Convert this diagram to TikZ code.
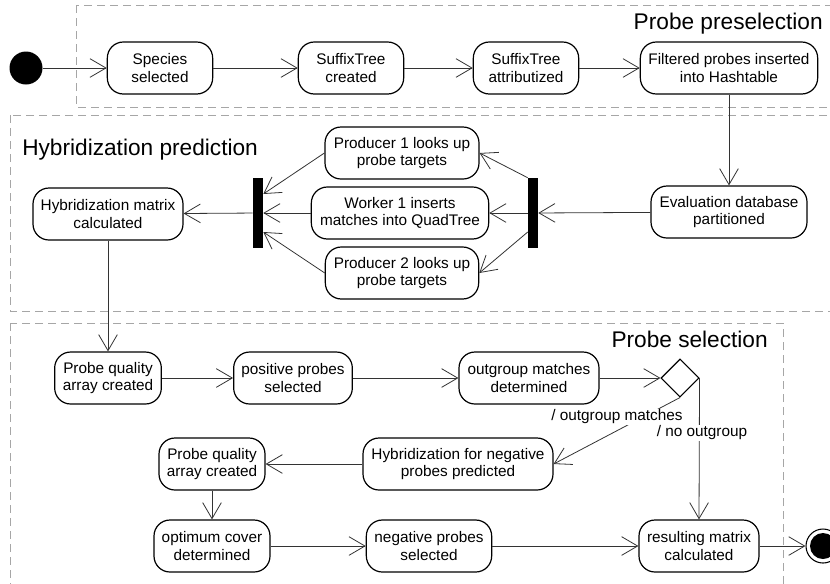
\documentclass[tikz,border=0pt]{standalone}
\usepackage{fontspec}
\setmainfont{Liberation Sans}
\usetikzlibrary{shapes.geometric, arrows.meta, positioning, calc}
\tikzset{
    activity/.style = {rectangle, rounded corners=12pt, minimum height=39pt, align=center, draw=black, line width=0.9pt, inner sep=2pt, font=\fontsize{11.5}{13}\selectfont},
    bar/.style = {rectangle, fill=black, minimum width=7.5pt, minimum height=52.5pt, inner sep=0pt},
    decision/.style = {diamond, draw=black, line width=0.8pt, minimum size=28.5pt, inner sep=0pt, aspect=1},
    arrow/.style = {line width=0.6pt, draw=black!80, -{Straight Barb[length=12pt,width=14pt]}},
    region/.style = {draw=black!35, line width=0.75pt, dash pattern=on 6pt off 3.75pt},
    title/.style = {font=\fontsize{17}{20}\selectfont, inner sep=0pt},
    guard/.style = {fill=white, inner sep=1pt, font=\fontsize{11.5}{13}\selectfont},
    initial/.style = {circle, fill=black, minimum size=24.75pt, inner sep=0pt},
    final/.style = {circle, draw=black, line width=0.8pt, minimum size=25.5pt, inner sep=0pt,
        path picture={\fill (path picture bounding box.center) circle (9.75pt);}}
}

\begin{document}
\begin{tikzpicture}[x=0.75pt, y=-0.75pt]
    \useasboundingbox (0,0) rectangle (830,583);

    % regions
    \draw[region] (76,5) rectangle (840,107);
    \draw[region] (10,115) rectangle (840,311);
    \draw[region] (10,323) rectangle (783,600);
    \node[title, anchor=base east] (tpre) at (823,29) {Probe preselection};
    \node[title, anchor=base west] (thyb) at (22,155) {Hybridization prediction};
    \node[title, anchor=base east] (tsel) at (768,347) {Probe selection};

    % probe preselection
    \node[initial] (start) at (26,68) {};
    \node[activity, minimum width=79pt] (species) at (160,68) {Species\\selected};
    \node[activity, minimum width=79pt] (created) at (351,68) {SuffixTree\\created};
    \node[activity, minimum width=79pt] (attrib) at (526,68) {SuffixTree\\attributized};
    \node[activity, minimum width=133pt] (filtered) at (729,68) {Filtered probes inserted\\into Hashtable};

    % hybridization prediction
    \node[activity, minimum width=117pt] (evaluation) at (729,212) {Evaluation database\\partitioned};
    \node[bar] (fork) at (533,213) {};
    \node[activity, minimum width=115.5pt] (prod1) at (402,153) {Producer 1 looks up\\probe targets};
    \node[activity, minimum width=133pt] (worker) at (400,213) {Worker 1 inserts\\matches into QuadTree};
    \node[activity, minimum width=115pt] (prod2) at (402,273) {Producer 2 looks up\\probe targets};
    \node[bar] (join) at (258,213) {};
    \node[activity, minimum width=112.5pt] (hybmat) at (108,214) {Hybridization matrix\\calculated};

    % probe selection
    \node[activity, minimum width=80pt] (pq1) at (108,378) {Probe quality\\array created};
    \node[activity, minimum width=89pt] (positive) at (293,378) {positive probes\\selected};
    \node[activity, minimum width=105pt] (outgroup) at (529,378) {outgroup matches\\determined};
    \node[decision] (dec) at (680,378) {};
    \node[activity, minimum width=142.5pt] (hybneg) at (458,464) {Hybridization for negative\\probes predicted};
    \node[activity, minimum width=79.5pt] (pq2) at (212,464) {Probe quality\\array created};
    \node[activity, minimum width=87pt] (optimum) at (212,546) {optimum cover\\determined};
    \node[activity, minimum width=94pt] (negative) at (429,546) {negative probes\\selected};
    \node[activity, minimum width=90pt] (resulting) at (699,546) {resulting matrix\\calculated};
    \node[final] (end) at (823,546) {};

    \draw[arrow] (start) -- (species);
    \draw[arrow] (species) -- (created);
    \draw[arrow] (created) -- (attrib);
    \draw[arrow] (attrib) -- (filtered);
    \draw[arrow] (filtered) -- (evaluation);
    \draw[arrow] (evaluation) -- (fork);
    \draw[arrow] (fork.north west) -- (prod1.east);
    \draw[arrow] (fork) -- (worker);
    \draw[arrow] ($(fork.west)+(0,19)$) -- (prod2.east);
    \draw[arrow] (prod1.west) -- ($(join.east)+(0,-19)$);
    \draw[arrow] (worker) -- (join);
    \draw[arrow] (prod2.west) -- ($(join.east)+(0,19)$);
    \draw[arrow] (join) -- (hybmat);
    \draw[arrow] (hybmat) -- (pq1);
    \draw[arrow] (pq1) -- (positive);
    \draw[arrow] (positive) -- (outgroup);
    \draw[arrow] (outgroup) -- (dec);
    \draw[arrow] (dec.south) -- (hybneg.east);
    \draw[arrow] (dec.east) -- (resulting.north);
    \draw[arrow] (hybneg) -- (pq2);
    \draw[arrow] (pq2) -- (optimum);
    \draw[arrow] (optimum) -- (negative);
    \draw[arrow] (negative) -- (resulting);
    \draw[arrow] (resulting) -- (end);

    % guards
    \node[guard] (gmatch) at (617,417) {/ outgroup matches};
    \node[guard] (gnone) at (702,433) {/ no outgroup};
\end{tikzpicture}
\end{document}
